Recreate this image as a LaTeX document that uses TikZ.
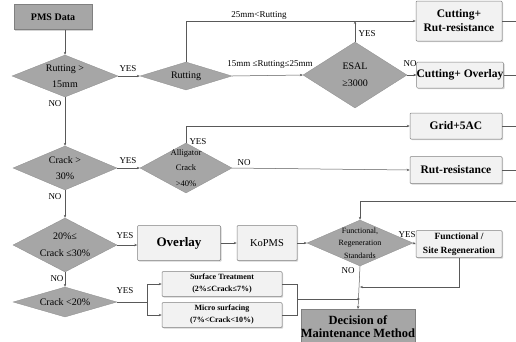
\documentclass[tikz,border=0pt]{standalone}
\usepackage{fontspec}
\setmainfont{Liberation Serif}
\usetikzlibrary{shapes.geometric,arrows.meta,shadows}
\definecolor{dgray}{HTML}{A6A6A6}
\definecolor{lgray}{HTML}{F2F2F2}
\definecolor{lnc}{HTML}{595959}
\tikzset{
  dia/.style={diamond,draw=dgray!85!black,line width=0.3pt,fill=dgray,inner sep=0pt},
  dtxt/.style={align=center,inner sep=0pt,font=\fontsize{10}{16}\selectfont},
  res/.style={rectangle,draw=gray,line width=0.5pt,fill=lgray,rounded corners=1pt,align=center,inner sep=0pt,
    drop shadow={shadow xshift=1.2pt,shadow yshift=-1.2pt,opacity=0.35},font=\bfseries\fontsize{11.5}{14}\selectfont},
  dark/.style={rectangle,draw=gray,line width=0.5pt,fill=dgray,align=center,inner sep=0pt,
    drop shadow={shadow xshift=1.2pt,shadow yshift=-1.2pt,opacity=0.35}},
  conn/.style={draw=lnc,line width=0.5pt},
  arr/.style={conn,-{Stealth[length=3pt,width=2.4pt]}},
  lab/.style={font=\fontsize{9}{10}\selectfont,inner sep=1pt}
}
\begin{document}
\begin{tikzpicture}[x=1pt,y=-1pt]
\clip (0,0) rectangle (516,341);
\useasboundingbox (0,0) rectangle (516,341);
% nodes
\node[dark,minimum width=78pt,minimum height=25pt,font=\bfseries\fontsize{10}{12}\selectfont] (pms) at (53,17) {PMS Data};
\node[dia,minimum width=106pt,minimum height=42pt,label={[dtxt]center:Rutting >\\15mm}] (d1) at (65,76) {};
\node[dia,minimum width=92pt,minimum height=28pt,label={[dtxt]center:Rutting}] (rut) at (186,76) {};
\node[dia,minimum width=104pt,minimum height=66pt,label={[dtxt,font=\fontsize{10}{17}\selectfont]center:ESAL\\≥3000}] (esal) at (355,75) {};
\node[res,minimum width=86pt,minimum height=40pt] (cr) at (459,21) {Cutting+\\Rut-resistance};
\node[res,minimum width=84pt,minimum height=26pt] (co) at (460,75) {Cutting+ Overlay};
\node[res,minimum width=92pt,minimum height=26pt] (grid) at (456,126) {Grid+5AC};
\node[res,minimum width=92pt,minimum height=27pt] (rr) at (456,170) {Rut-resistance};
\node[dia,minimum width=104pt,minimum height=44pt,label={[dtxt]center:Crack >\\30\%}] (d2) at (65,168) {};
\node[dia,minimum width=92pt,minimum height=50pt,label={[dtxt,font=\fontsize{8.5}{15.5}\selectfont]center:Alligator\\Crack\\>40\%}] (alli) at (186,168) {};
\node[dia,minimum width=104pt,minimum height=54pt,label={[dtxt,font=\fontsize{10}{17}\selectfont]center:20\%≤\\Crack ≤30\%}] (d3) at (65,245) {};
\node[res,minimum width=83pt,minimum height=35pt,font=\bfseries\fontsize{13}{15}\selectfont] (ov) at (179,243) {Overlay};
\node[res,minimum width=60pt,minimum height=35pt,font=\fontsize{10.5}{12}\selectfont] (kp) at (267,243) {KoPMS};
\node[dia,minimum width=106pt,minimum height=46pt,label={[dtxt,font=\fontsize{8}{12.5}\selectfont]center:Functional,\\Regeneration\\Standards}] (fn) at (360,243) {};
\node[res,minimum width=86pt,minimum height=27pt,font=\bfseries\fontsize{9.5}{13.5}\selectfont] (fsr) at (459,244) {Functional /\\Site Regeneration};
\node[dia,minimum width=104pt,minimum height=30pt,label={[dtxt]center:Crack <20\%}] (d4) at (65,302) {};
\node[res,minimum width=120pt,minimum height=25pt,font=\bfseries\fontsize{8}{12}\selectfont] (st) at (222,284) {Surface Treatment\\(2\%≤Crack≤7\%)};
\node[res,minimum width=120pt,minimum height=25pt,font=\bfseries\fontsize{8}{12}\selectfont] (ms) at (222,315) {Micro surfacing\\(7\%<Crack<10\%)};
\node[dark,minimum width=103pt,minimum height=34pt,anchor=north,font=\bfseries\fontsize{12.5}{13}\selectfont] (dec) at (358,309) {Decision of\\Maintenance Method};
% helper coordinates
\coordinate (e1) at (516,21);
\coordinate (e2) at (516,75);
\coordinate (e3) at (516,126);
\coordinate (e4) at (516,170);
\coordinate (e5) at (516,201);
\coordinate (c6) at (459,287);
\coordinate (c7) at (147,302);
\coordinate (c8) at (297,299);
% connectors
\draw[arr] (pms.south -| d1.north) -- (d1.north);
\draw[arr] (d1.east) -- (rut.west);
\draw[arr] (rut.north) |- (cr.west);
\draw[arr] (rut.east) -- (esal.west);
\draw[arr] (esal.north) -- (esal.north |- cr.west);
\draw[arr] (esal.east) -- (co.west);
\draw[conn] (cr.east) -- (e1);
\draw[conn] (co.east) -- (e2);
\draw[conn] (grid.east) -- (e3);
\draw[conn] (rr.east) -- (e4);
\draw[arr] (d1.south) -- (d2.north);
\draw[arr] (d2.east) -- (alli.west);
\draw[arr] (alli.north) |- (grid.west);
\draw[arr] (alli.east) -- (rr.west);
\draw[arr] (d2.south) -- (d3.north);
\draw[arr] (d3.east) -- (d3.east -| ov.west);
\draw[arr] (ov.east) -- (kp.west);
\draw[arr] (kp.east) -- (fn.west);
\draw[arr] (e5) -| (fn.north);
\draw[arr] (fn.east) -- (fsr.west);
\draw[arr] (fn.south) -- (dec.north);
\draw[arr] (fsr.south) |- (fn.south |- c6);
\draw[arr] (d3.south) -- (d4.north);
\draw[conn] (d4.east) -- (c7);
\draw[arr] (c7 |- st.west) |- (st.west);
\draw[arr] (c7 |- st.west) |- (ms.west);
\draw[conn] (c7 |- st.west) -- (c7 |- ms.west);
\draw[conn] (st.east) -| (c8);
\draw[conn] (ms.east) -| (c8);
\draw[arr] (c8) -- (fn.south |- c8);
% labels
\node[lab] (l1) at (128,69) {YES};
\node[lab] (l2) at (259,15) {25mm<Rutting};
\node[lab] (l3) at (270,64) {15mm ≤Rutting≤25mm};
\node[lab] (l4) at (367,34) {YES};
\node[lab] (l5) at (410,64) {NO};
\node[lab] (l6) at (55,104) {NO};
\node[lab] (l7) at (128,161) {YES};
\node[lab] (l8) at (198,142) {YES};
\node[lab] (l9) at (244,163) {NO};
\node[lab] (l10) at (55,197) {NO};
\node[lab] (l11) at (125,236) {YES};
\node[lab] (l12) at (407,235) {YES};
\node[lab] (l13) at (348,271) {NO};
\node[lab] (l14) at (57,279) {NO};
\node[lab] (l15) at (125,291) {YES};
\end{tikzpicture}
\end{document}
